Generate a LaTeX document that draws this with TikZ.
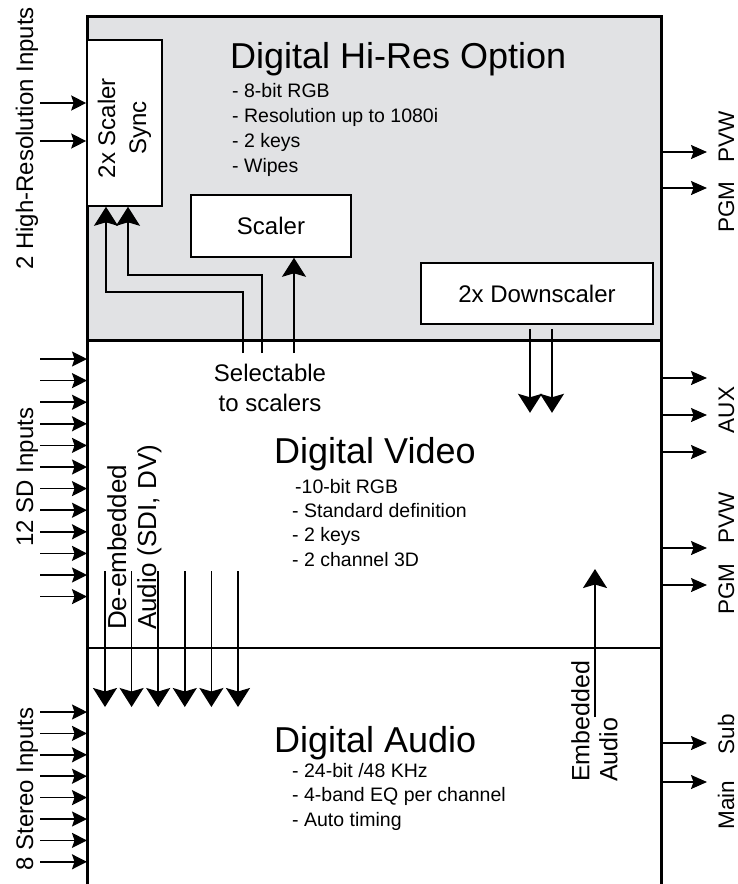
\documentclass[tikz,border=0pt]{standalone}
\usepackage{fontspec}
\setmainfont{Liberation Sans}
\usetikzlibrary{arrows.meta}
\definecolor{hiresgray}{RGB}{225,226,228}

\begin{document}
\begin{tikzpicture}[
    x=1pt, y=-1pt,
    every node/.style={font=\fontsize{24}{31}\selectfont},
    >=Stealth,
    box/.style={draw, line width=1.6pt, fill=white, inner sep=0pt},
    wire/.style={line width=1.6pt},
    inarrow/.style={wire, -{Stealth[length=15pt, width=15pt, inset=2.5pt]}},
    outarrow/.style={wire, -{Stealth[length=16pt, width=14pt, inset=2.5pt]}},
    bigarrow/.style={wire, -{Stealth[length=19pt, width=24pt, inset=3.5pt]}},
    title/.style={font=\fontsize{36}{40}\selectfont, anchor=base west, inner sep=0pt},
    features/.style={font=\fontsize{19.5}{25}\selectfont, align=left, anchor=north west, inner sep=0pt},
    sidelabel/.style={rotate=90, anchor=base, inner sep=0pt},
    outlabel/.style={sidelabel, font=\fontsize{22.5}{26}\selectfont}
]
\useasboundingbox (0,0) rectangle (738,884);

% --- Frame and sections ---
\fill[hiresgray] (87,16) rectangle (661,340);
\draw[line width=3pt] (87,884) -- (87,16) -- (661,16) -- (661,884);
\draw[line width=3pt] (87,340) -- (661,340);
\draw[line width=2.2pt] (87,648) -- (661,648);

% --- Hi-Res section ---
\node[box, minimum width=75pt, minimum height=166pt] (sync) at (124.5,123) {};
\node[align=center, rotate=90] (synctext) at (124.5,128) {2x Scaler\\Sync};
\node[box, minimum width=160pt, minimum height=62pt] (scaler) at (271,226) {Scaler};
\node[box, minimum width=232pt, minimum height=61pt] (down) at (537,293.5) {2x Downscaler};

\node[title] (hires) at (230,68) {Digital Hi-Res Option};
\node[features] (hiresfeat) at (232,82.8)
    {- 8-bit RGB\\- Resolution up to 1080i\\- 2 keys\\- Wipes};

% --- Selectable to scalers ---
\node[align=center, inner sep=0pt, font=\fontsize{24}{30}\selectfont] (select) at (270,388)
    {Selectable\\to scalers};
\coordinate (sel1) at (243,353);
\coordinate (sel2) at (262,353);
\coordinate (sel3) at (294,353);
\draw[bigarrow] (sel1) -- (243,292) -| ([xshift=-18.5pt]sync.south);
\draw[bigarrow] (sel2) -- (262,275) -| ([xshift=3.5pt]sync.south);
\draw[bigarrow] (sel3) -- (sel3 |- scaler.south);

% --- Downscaler into video ---
\foreach \dx in {-7,15}
    \draw[bigarrow] ([xshift=\dx pt, yshift=-4pt]down.south) -- ++(0,84);

% --- Video section ---
\node[title] (video) at (274,463) {Digital Video};
\node[features, font=\fontsize{19.5}{24.3}\selectfont] (videofeat) at (292,478.8)
    {\hspace*{3pt}-10-bit RGB\\- Standard definition\\- 2 keys\\- 2 channel 3D};

% --- Audio section ---
\node[title] (audio) at (274,752) {Digital Audio};
\node[features, font=\fontsize{19.5}{24.5}\selectfont] (audiofeat) at (292,762.8)
    {- 24-bit /48 KHz\\- 4-band EQ per channel\\- Auto timing};

% --- Inputs ---
\node[sidelabel] (hrin) at (33,138.5) {2 High-Resolution Inputs};
\node[sidelabel] (sdin) at (33,477) {12 SD Inputs};
\node[sidelabel] (stin) at (33,789) {8 Stereo Inputs};
\foreach \y in {103,141}
    \draw[inarrow] (40,\y) -- (sync.west |- 0,\y);
\foreach \i in {0,...,11}
    \draw[inarrow] (40,359+21.6*\i) -- (87,359+21.6*\i);
\foreach \i in {0,...,7}
    \draw[inarrow] (40,712+21.4*\i) -- (87,712+21.4*\i);

% --- Outputs ---
\foreach \y in {152,188,378,415,452,548,585,743,782}
    \draw[outarrow] (661,\y) -- (707,\y);
\foreach \y/\t in {137/PVW, 207/PGM, 410/AUX, 518/PVW, 589/PGM, 734/Sub, 805/Main}
    \node[outlabel] (out\y) at (734,\y) {\t};

% --- De-embedded / embedded audio ---
\node[rotate=90, anchor=north west, inner sep=0pt, align=left, font=\fontsize{26}{30}\selectfont]
    (deemb) at (107,630) {De-embedded\\Audio (SDI, DV)};
\foreach \i in {0,...,5}
    \draw[bigarrow] (105+26.6*\i,571) -- (105+26.6*\i,707);

\node[rotate=90, anchor=north west, inner sep=0pt, align=left, font=\fontsize{25}{28}\selectfont]
    (emb) at (571,782) {Embedded\\Audio};
\coordinate (embfoot) at (595,717);
\draw[bigarrow] (embfoot) -- (595,569);

\end{tikzpicture}
\end{document}
